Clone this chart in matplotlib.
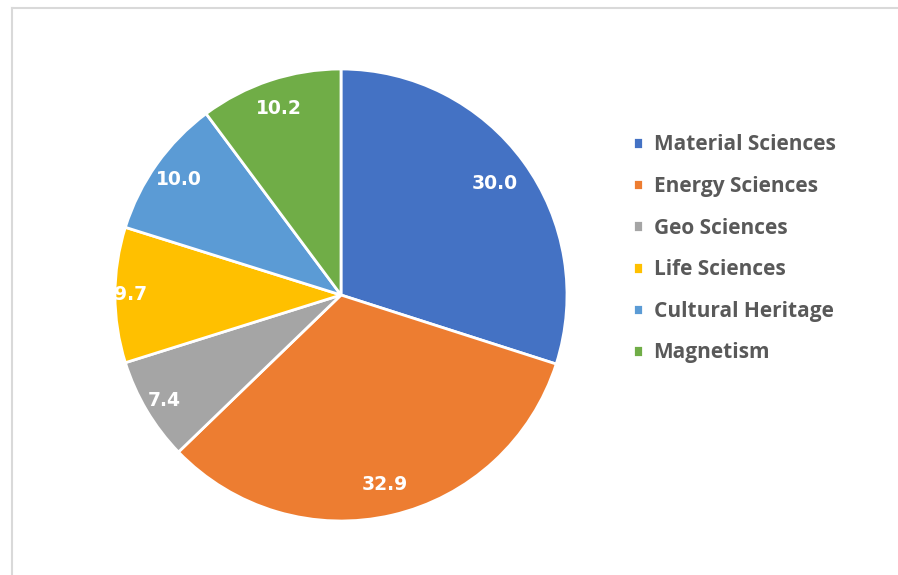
import matplotlib.pyplot as plt
import numpy as np
from matplotlib.lines import Line2D

# Data (shares, in %)
categories = ["Material Sciences", "Energy Sciences", "Geo Sciences",
              "Life Sciences", "Cultural Heritage", "Magnetism"]
values = [30.0, 32.9, 7.4, 9.7, 10.0, 10.2]
labels = ["30.0", "32.9", "7.4", "9.7", "10.0", "10.2"]
colors = ["#4472C4", "#ED7D31", "#A5A5A5", "#FFC000", "#5B9BD5", "#70AD47"]

# where each value label sits, as a fraction of the radius
label_dist = [0.84, 0.86, 0.91, 0.93, 0.88, 0.87]

W, H = 898, 575
fig = plt.figure(figsize=(W / 100, H / 100), dpi=100)
ax = fig.add_axes([0, 0, 1, 1])

cx, cy, r = 341, H - 295, 226
wedges, _ = ax.pie(values, colors=colors, startangle=90, counterclock=False,
                   center=(cx, cy), radius=r,
                   wedgeprops=dict(edgecolor="white", linewidth=2))
ax.set_xlim(0, W)
ax.set_ylim(0, H)
ax.set_aspect("equal")
ax.axis("off")

for w, lab, d in zip(wedges, labels, label_dist):
    ang = np.deg2rad((w.theta1 + w.theta2) / 2)
    ax.text(cx + d * r * np.cos(ang), cy + d * r * np.sin(ang), lab,
            ha="center", va="center", color="white", fontsize=13.5,
            fontweight="bold", family="DejaVu Sans")

leg = ax.legend(wedges, categories, loc="upper left",
                bbox_to_anchor=(625 / W, 1 - 126 / H), frameon=False,
                prop=dict(family="Open Sans", size=15, weight="bold"),
                handlelength=0.47, handleheight=0.47, handletextpad=0.5,
                labelspacing=0.99, borderaxespad=0)
for t in leg.get_texts():
    t.set_color("#595959")

# light outer frame of the chart area (top and left visible)
fig.add_artist(Line2D([11.5 / W, 11.5 / W], [0, 1 - 8 / H], color="#D9D9D9", lw=1.5))
fig.add_artist(Line2D([11.5 / W, 1], [1 - 8 / H, 1 - 8 / H], color="#D9D9D9", lw=1.5))

fig.savefig("out.png", dpi=100)
